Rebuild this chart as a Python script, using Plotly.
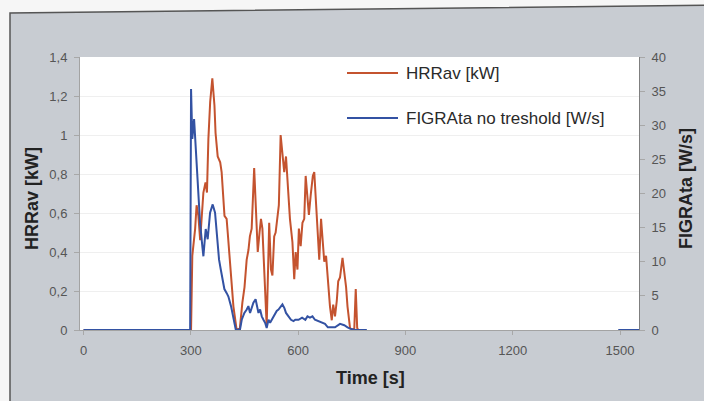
import plotly.graph_objects as go
from plotly.subplots import make_subplots

# ---- data -------------------------------------------------------------
# heat release rate, averaged [kW]
hrr_time = [0, 300.5, 304, 312, 316, 321, 326, 330, 335, 341, 345, 349, 354, 360,
            366, 369, 375, 382, 386, 394, 400, 403, 409, 414, 419, 428, 437, 444,
            450, 456, 461, 465, 470, 477, 481, 487, 492, 496, 500, 506, 512, 519,
            524, 528, 533, 537, 543, 546, 551, 556, 561, 566, 571, 577, 584, 589,
            593, 598, 602, 607, 612, 617, 621, 626, 630, 635, 641, 645, 650, 655,
            659, 664, 669, 673, 678, 683, 689, 694, 698, 703, 708, 712, 717, 724,
            729, 734, 738, 745, 752, 757, 761, 765, 768]
hrr_kw = [0, 0, 0.38, 0.52, 0.64, 0.585, 0.46, 0.60, 0.705, 0.757, 0.705, 0.98, 1.17, 1.29,
          1.15, 1.01, 0.89, 0.86, 0.81, 0.585, 0.57, 0.50, 0.36, 0.21, 0.12, 0.0, 0.01, 0.14,
          0.22, 0.36, 0.41, 0.48, 0.52, 0.83, 0.66, 0.40, 0.50, 0.57, 0.52, 0.25, 0.02, 0.55,
          0.31, 0.28, 0.48, 0.50, 0.62, 0.64, 1.00, 0.91, 0.81, 0.89, 0.74, 0.57, 0.45, 0.26,
          0.40, 0.31, 0.52, 0.43, 0.55, 0.57, 0.79, 0.65, 0.59, 0.69, 0.79, 0.81, 0.65, 0.52,
          0.36, 0.57, 0.45, 0.35, 0.38, 0.24, 0.12, 0.05, 0.13, 0.07, 0.15, 0.25, 0.27, 0.37,
          0.29, 0.22, 0.12, 0.01, 0.0, 0.01, 0.21, 0.01, 0]

# fire growth rate, no threshold [W/s]; None marks the unrecorded span
figra_time = [0, 298, 300.5, 304, 309, 314.5, 321, 325.7, 332, 335, 341.5, 347, 353.7,
              361, 367.6, 372.3, 378.8, 383.5, 393.7, 400.2, 404.9, 412.3, 416, 420.7,
              425.4, 430, 437.5, 442.2, 449.6, 456.2, 460.8, 465.5, 474.8, 481, 489,
              493.6, 498.2, 502.9, 507.6, 512, 517, 521.5, 526, 531, 535.5, 540, 545,
              556, 561.5, 566, 573, 580, 587, 592, 601, 611, 620, 626, 633, 640, 647,
              657, 666, 675, 683, 694, 703, 717, 729, 738, 745, 760, 792,
              None, 1495, 1560]
figra_ws = [0, 0, 35.3, 28.0, 30.9, 25.5, 20.6, 15.7, 12.3, 10.8, 14.8, 13.3, 17.2,
            18.4, 17.2, 14.3, 10.3, 8.9, 6.0, 5.4, 4.9, 3.5, 2.5, 1.0,
            0.1, 0, 0.1, 1.5, 2.5, 3.0, 3.5, 2.5, 4.0, 4.5, 2.5,
            3.0, 2.0, 1.5, 1.06, 0.3, 1.5, 1.06, 1.5, 2.0, 2.5, 2.8, 3.0,
            3.75, 3.2, 2.5, 2.0, 1.5, 1.3, 1.5, 1.5, 1.8, 1.5, 2.0, 1.8, 2.0, 1.5,
            1.3, 1.06, 0.9, 0.4, 0.4, 0.4, 0.9, 0.7, 0.4, 0.2, 0, 0,
            None, 0, 0]

x_ticks = [0, 300, 600, 900, 1200, 1500]
x_tick_labels = ["0", "300", "600", "900", "1200", "1500"]

RED = "#c4532f"
BLUE = "#3352a3"
PANEL = "#c8ccd2"
FONT = "Liberation Sans, Arial, sans-serif"

# ---- figure -----------------------------------------------------------
fig = make_subplots(specs=[[{"secondary_y": True}]])

fig.add_trace(go.Scatter(x=hrr_time, y=hrr_kw, mode="lines", name="HRRav [kW]",
                         line=dict(color=RED, width=2), cliponaxis=False,
                         showlegend=False), secondary_y=False)
fig.add_trace(go.Scatter(x=figra_time, y=figra_ws, mode="lines",
                         name="FIGRAta no treshold [W/s]",
                         line=dict(color=BLUE, width=2), cliponaxis=False,
                         connectgaps=False, showlegend=False), secondary_y=True)

L, R, T, B = 80, 65, 57, 71
W, H = 704, 401
pw, ph = W - L - R, H - T - B


def px(x):
    return (x - L) / pw


def py(y):
    return (H - B - y) / ph


tick_font = dict(family=FONT, size=13, color="#555555")

fig.update_xaxes(domain=[0, 1], range=[-10, 1553], tickvals=x_ticks,
                 ticktext=x_tick_labels, showgrid=False, zeroline=False,
                 showline=True, linecolor="#a3a3a3", linewidth=1, ticks="outside",
                 ticklen=4, tickcolor="#a8a8a8", tickfont=tick_font,
                 ticklabelstandoff=4, automargin=False)
fig.update_yaxes(range=[0, 1.4], dtick=0.2, showgrid=True, gridcolor="#efefef",
                 zeroline=False, showline=True, linecolor="#a3a3a3",
                 ticks="outside", ticklen=5, tickcolor="#a8a8a8",
                 tickfont=tick_font, ticklabelstandoff=4, automargin=False,
                 secondary_y=False)
fig.update_yaxes(range=[0, 40], dtick=5, showgrid=False, zeroline=False,
                 showline=True, linecolor="#7f7f7f", ticks="outside", ticklen=5,
                 tickcolor="#a8a8a8", tickfont=tick_font, ticklabelstandoff=4,
                 automargin=False, secondary_y=True)

# outer panel: white margin strips outside the grey frame plus its edge
outer = (f"M {px(-20)},{py(-20)} L {px(730)},{py(-20)} L {px(730)},{py(5)} "
         f"L {px(10)},{py(13)} L {px(10)},{py(430)} L {px(-20)},{py(430)} Z")
edge = f"M {px(10)},{py(430)} L {px(10)},{py(13)} L {px(730)},{py(5)}"

# legend drawn inside the plot area
leg_x0, leg_x1, leg_tx = px(347), px(398), px(404)
leg_rows = [("HRRav [kW]", RED, py(73)), ("FIGRAta no treshold [W/s]", BLUE, py(118))]

shapes = [
    dict(type="path", path=outer, xref="paper", yref="paper",
         fillcolor="#f6f6f6", line=dict(width=0)),
    dict(type="path", path=edge, xref="paper", yref="paper",
         line=dict(color="#555555", width=1.5)),
]
annotations = []
for label, color, yy in leg_rows:
    shapes.append(dict(type="line", xref="paper", yref="paper", x0=leg_x0, x1=leg_x1,
                       y0=yy, y1=yy, line=dict(color=color, width=2)))
    annotations.append(dict(text=label, xref="paper", yref="paper", x=leg_tx, y=yy,
                            xanchor="left", yanchor="middle", showarrow=False,
                            font=dict(family=FONT, size=17, color="#2a2a2a")))

title_font = dict(family=FONT, size=18, color="#222222")
annotations += [
    dict(text="<b>HRRav [kW]</b>", xref="paper", yref="paper", x=px(32), y=py(199),
         textangle=-90, showarrow=False, xanchor="center", yanchor="middle",
         font=title_font),
    dict(text="<b>FIGRAta [W/s]</b>", xref="paper", yref="paper", x=px(686), y=py(189),
         textangle=-90, showarrow=False, xanchor="center", yanchor="middle",
         font=title_font),
    dict(text="<b>Time [s]</b>", xref="paper", yref="paper", x=px(370), y=py(378),
         showarrow=False, xanchor="center", yanchor="middle", font=title_font),
]

fig.update_layout(
    width=W, height=H,
    margin=dict(l=L, r=R, t=T, b=B, pad=0, autoexpand=False),
    paper_bgcolor=PANEL, plot_bgcolor="white",
    separators=", ",
    shapes=shapes, annotations=annotations,
    showlegend=False,
    font=dict(family=FONT),
)

fig.write_html("out.html")
